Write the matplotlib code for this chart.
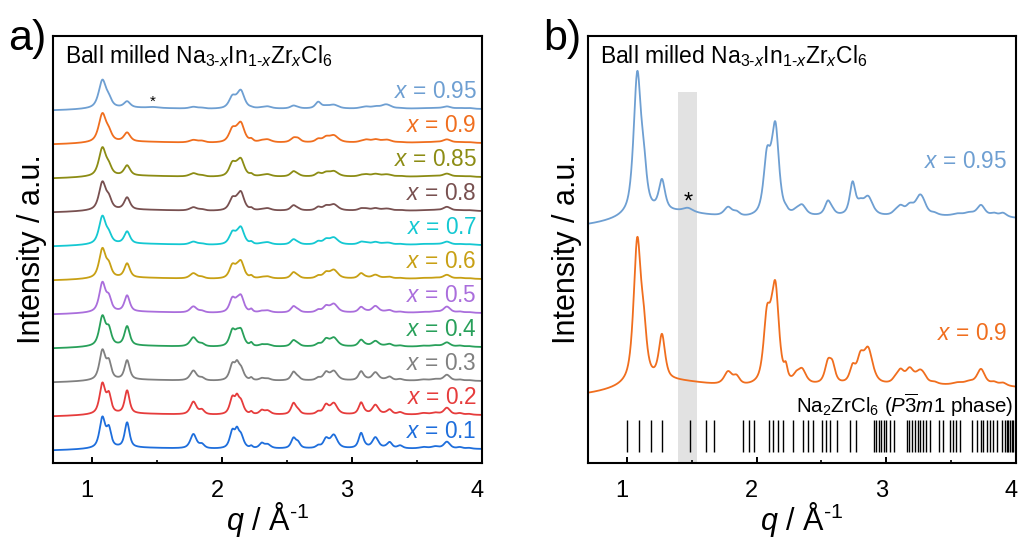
import numpy as np
import matplotlib
matplotlib.use("Agg")
import matplotlib.pyplot as plt
import matplotlib.transforms as mtrans
from matplotlib.ticker import MultipleLocator

plt.rcParams['font.family'] = ['Liberation Sans', 'DejaVu Sans']
plt.rcParams['mathtext.fontset'] = 'custom'
plt.rcParams['mathtext.rm'] = 'Liberation Sans'
plt.rcParams['mathtext.it'] = 'Liberation Sans:italic'
plt.rcParams['mathtext.bf'] = 'Liberation Sans:bold'

# ---------------- data ----------------
# peak positions (q, 1/Å) and half widths shared by all patterns
PEAK_Q = [1.080, 1.130, 1.270, 1.470, 1.780, 1.845, 2.080, 2.115, 2.145, 2.225,
          2.305, 2.350, 2.550, 2.585, 2.740, 2.800, 2.860, 3.070, 3.110, 3.180,
          3.260, 3.290, 3.370, 3.550, 3.640, 3.730, 3.830, 3.900]
PEAK_W = [0.026, 0.021, 0.022, 0.035, 0.028, 0.023, 0.024, 0.017, 0.025, 0.012,
          0.021, 0.028, 0.022, 0.020, 0.020, 0.024, 0.032, 0.022, 0.024, 0.028,
          0.032, 0.022, 0.024, 0.035, 0.035, 0.028, 0.025, 0.025]

# peak heights (a.u.) for each composition x
h_x010 = [150, 88, 125, 0, 72, 20, 85, 62, 62, 10, 24, 20, 50, 26, 12, 44, 66, 75, 4, 54, 4, 28, 14, 7, 10, 34, 7, 4]
h_x020 = [150, 88, 115, 0, 64, 22, 82, 58, 62, 12, 19, 19, 55, 18, 12, 44, 55, 58, 4, 47, 4, 22, 11, 7, 9, 34, 7, 4]
h_x030 = [146, 80, 96, 0, 50, 13, 78, 55, 58, 12, 10, 10, 42, 13, 12, 37, 46, 44, 4, 40, 4, 16, 7, 5, 7, 29, 5, 3]
h_x040 = [146, 74, 96, 0, 46, 13, 78, 30, 78, 16, 8, 10, 30, 10, 12, 33, 43, 32, 4, 27, 4, 10, 5, 4, 6, 21, 5, 3]
h_x050 = [145, 62, 80, 0, 31, 8, 68, 22, 80, 14, 6, 10, 30, 10, 12, 28, 42, 26, 4, 32, 4, 9, 4, 3, 5, 30, 5, 3]
h_x060 = [145, 53, 70, 0, 27, 8, 64, 18, 82, 11, 5, 10, 30, 8, 12, 26, 42, 25, 4, 18, 4, 6, 3, 3, 4, 19, 4, 3]
h_x070 = [138, 38, 60, 0, 15, 5, 58, 12, 82, 10, 4, 11, 25, 6, 14, 22, 34, 12, 7, 12, 7, 4, 3, 3, 3, 15, 3, 3]
h_x080 = [138, 48, 60, 0, 17, 6, 58, 14, 88, 9, 4, 11, 25, 6, 16, 19, 30, 9, 8, 11, 8, 3, 3, 2, 3, 19, 3, 3]
h_x085 = [140, 38, 50, 0, 17, 6, 64, 14, 82, 9, 3, 11, 25, 6, 16, 17, 26, 6, 9, 12, 9, 3, 3, 2, 3, 15, 3, 3]
h_x090 = [140, 38, 44, 0, 13, 8, 64, 12, 92, 12, 6, 14, 20, 16, 15, 22, 34, 4, 12, 14, 12, 3, 2, 2, 3, 16, 3, 3]
h_x095 = [138, 34, 30, 4, 9, 4, 56, 6, 86, 2, 3, 10, 14, 3, 32, 9, 18, 3, 8, 9, 19, 3, 2, 2, 3, 11, 3, 4]

# peak broadening factor for each composition (higher x -> broader peaks)
WIDTH_SCALE = [1.0, 1.0, 1.05, 1.1, 1.1, 1.15, 1.2, 1.2, 1.25, 1.3, 1.3]

# broad diffuse background shared by all patterns
BG_LEVEL = -15
BG_Q = [1.3, 2.3, 3.6]
BG_SIGMA = [0.35, 0.5, 0.8]
BG_H = [14, 7, 11]

COMPOSITIONS = ['0.1', '0.2', '0.3', '0.4', '0.5', '0.6', '0.7', '0.8', '0.85', '0.9', '0.95']
HEIGHTS = [h_x010, h_x020, h_x030, h_x040, h_x050, h_x060, h_x070, h_x080, h_x085, h_x090, h_x095]
COLORS = ['#1e6edc', '#e63c3c', '#808080', '#28a05a', '#aa6edc', '#c8a014',
          '#14c8d2', '#785050', '#8c8c14', '#f06e1e', '#6e9fd2']

# Na2ZrCl6 (P-3m1) reference reflections
REF_Q = [1.000, 1.093, 1.183, 1.268, 1.485, 1.613, 1.673, 1.897, 1.941, 1.982,
         2.098, 2.129, 2.168, 2.206, 2.278, 2.361, 2.399, 2.438, 2.503, 2.534,
         2.567, 2.619, 2.722, 2.763, 2.902, 2.923, 2.941, 2.959, 2.979, 3.000,
         3.026, 3.057, 3.160, 3.178, 3.198, 3.224, 3.245, 3.263, 3.284, 3.309,
         3.340, 3.405, 3.436, 3.490, 3.515, 3.541, 3.567, 3.662, 3.701, 3.727,
         3.747, 3.778, 3.799, 3.825, 3.856, 3.894, 3.915, 3.928, 3.941, 3.954,
         3.966, 3.979]

IMPURITY_BAND = (1.394, 1.54)
ETA = 0.7  # Lorentzian fraction of the peak profile

# ---------------- profile construction ----------------
Q = np.linspace(0.7, 4.0, 1400)


def pattern(heights, wscale):
    y = np.full_like(Q, BG_LEVEL, dtype=float)
    for c, s, h in zip(BG_Q, BG_SIGMA, BG_H):
        y += h * np.exp(-(Q - c) ** 2 / (2 * s ** 2))
    for c, w, h in zip(PEAK_Q, PEAK_W, heights):
        d = ((Q - c) / (w * wscale)) ** 2
        y += h * (ETA / (1 + d) + (1 - ETA) * np.exp(-np.log(2) * d))
    return y


fig = plt.figure(figsize=(10.19, 5.37), dpi=100)
axA = fig.add_axes([53 / 1019, 74 / 537, 429 / 1019, 427 / 537])
axB = fig.add_axes([588 / 1019, 74 / 537, 428 / 1019, 427 / 537])

TITLE = r"Ball milled Na$_{3\text{-}x}$In$_{1\text{-}x}$Zr$_x$Cl$_6$"

for ax in (axA, axB):
    ax.set_xlim(0.7, 4.0)
    ax.xaxis.set_major_locator(MultipleLocator(1))
    ax.xaxis.set_minor_locator(MultipleLocator(0.5))
    ax.tick_params(axis='x', which='major', direction='in', length=4, width=1.4,
                   labelsize=17, pad=12, top=False)
    ax.tick_params(axis='x', which='minor', direction='in', length=2.2, width=1.2, top=False)
    ax.tick_params(axis='y', left=False, labelleft=False)
    for sp in ax.spines.values():
        sp.set_linewidth(1.5)
    ax.set_xlabel(r"$q$ / Å$^{\text{-}1}$", fontsize=22, labelpad=-1)
    ax.set_ylabel("Intensity / a.u.", fontsize=22, labelpad=4)
    ax.text(0.028, 0.937, TITLE, transform=ax.transAxes, fontsize=16.5,
            ha='left', va='baseline')

# ---------------- panel a ----------------
SCALE_A = 0.2
STEP_A = 34
axA.set_ylim(-15, 412)
for k, (comp, h, ws, col) in enumerate(zip(COMPOSITIONS, HEIGHTS, WIDTH_SCALE, COLORS)):
    axA.plot(Q, pattern(h, ws) * SCALE_A + k * STEP_A, color=col, lw=1.3)
    axA.text(3.96, k * STEP_A + 17, r"$x$ = " + comp, color=col, fontsize=16.3,
             ha='right', va='center')
axA.text(1.47, 10 * STEP_A + 6, "*", fontsize=11, ha='center', va='center')

# ---------------- panel b ----------------
OFFSET_B = 169
axB.set_ylim(-81, 346)
axB.axvspan(IMPURITY_BAND[0], IMPURITY_BAND[1], ymin=0, ymax=(290 + 81) / 427,
            color='#e2e2e2', lw=0, zorder=0)
axB.plot(Q, pattern(h_x095, WIDTH_SCALE[10]) + OFFSET_B, color=COLORS[10], lw=1.3)
axB.plot(Q, pattern(h_x090, WIDTH_SCALE[9]), color=COLORS[9], lw=1.3)
axB.text(3.93, 220, r"$x$ = 0.95", color=COLORS[10], fontsize=16.3, ha='right', va='center')
axB.text(3.93, 48, r"$x$ = 0.9", color=COLORS[9], fontsize=16.3, ha='right', va='center')
axB.text(1.47, 179, "*", fontsize=17, ha='center', va='center')
axB.vlines(REF_Q, -70, -38, color='black', lw=1.0)
axB.text(3.98, -23, r"Na$_2$ZrCl$_6$ ($P\overline{3}m$1 phase)", fontsize=14.8,
         ha='right', va='center')

fig.text(8 / 1019, 1 - 50 / 537, "a)", fontsize=31, ha='left', va='baseline')
fig.text(543 / 1019, 1 - 50 / 537, "b)", fontsize=31, ha='left', va='baseline')

# tick labels sit slightly left of their ticks in the reference
fig.canvas.draw()
shift = mtrans.ScaledTranslation(-5 / 100, 0, fig.dpi_scale_trans)
for ax in (axA, axB):
    for t in ax.xaxis.get_major_ticks():
        t.label1.set_transform(t.label1.get_transform() + shift)

fig.savefig("out.png", dpi=100)
